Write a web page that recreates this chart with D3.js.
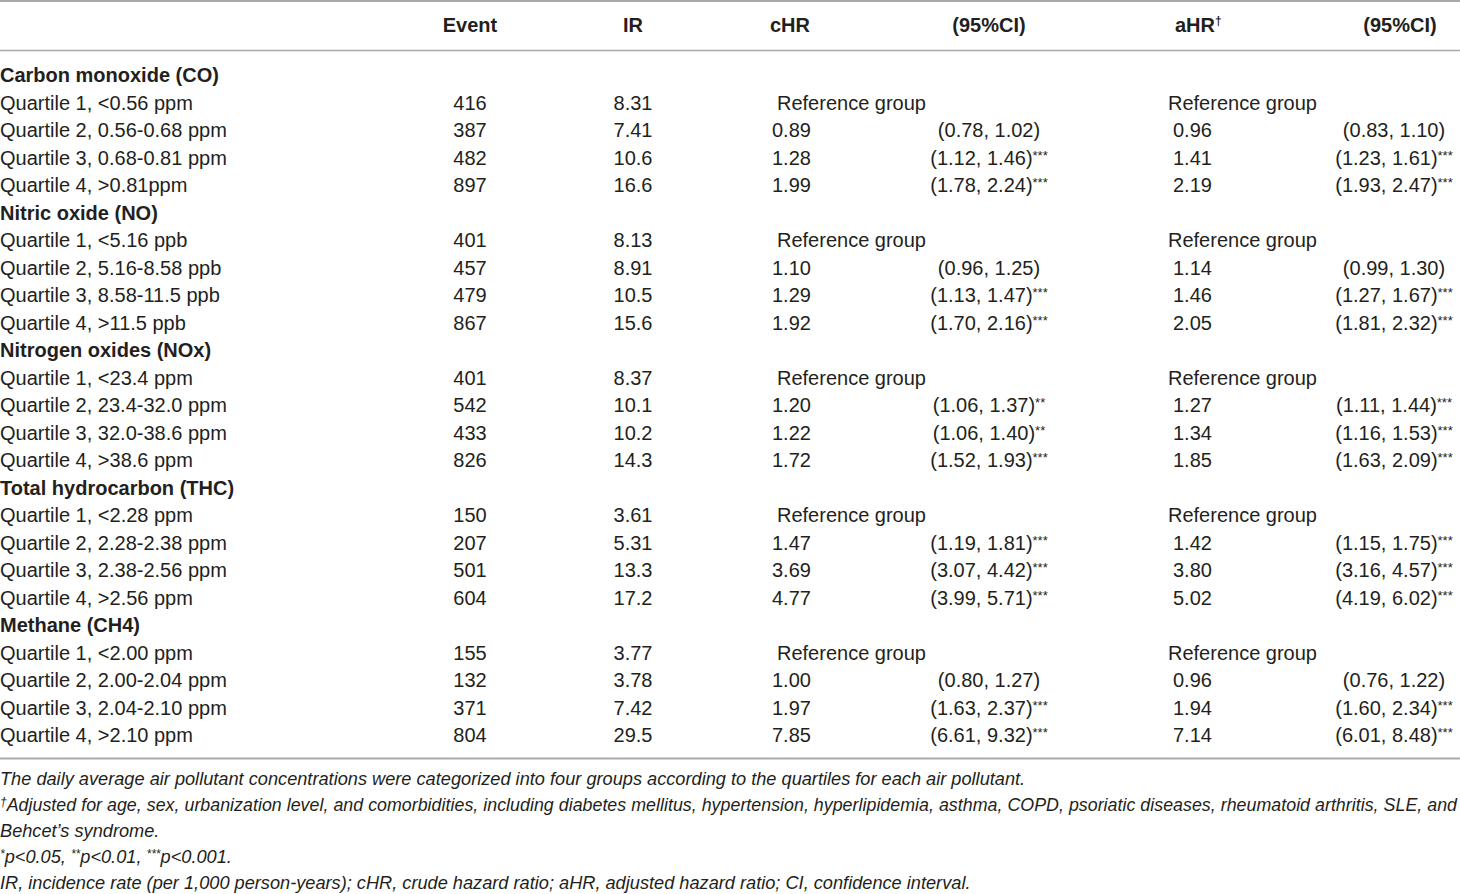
<!DOCTYPE html>
<html>
<head>
<meta charset="utf-8">
<script src="https://cdn.jsdelivr.net/npm/d3@7"></script>
<style>
  body { margin: 0; background: #fff; }
  svg text { font-family: "Liberation Sans", Arial, sans-serif; fill: #231f20; }
</style>
</head>
<body>
<svg id="chart" width="1460" height="894"></svg>
<script>
const pollutants = ['Carbon monoxide (CO)', 'Nitric oxide (NO)', 'Nitrogen oxides (NOx)', 'Total hydrocarbon (THC)', 'Methane (CH4)'];
const quartileLabels = [
  ['Quartile 1, <0.56 ppm', 'Quartile 2, 0.56-0.68 ppm', 'Quartile 3, 0.68-0.81 ppm', 'Quartile 4, >0.81ppm'],
  ['Quartile 1, <5.16 ppb', 'Quartile 2, 5.16-8.58 ppb', 'Quartile 3, 8.58-11.5 ppb', 'Quartile 4, >11.5 ppb'],
  ['Quartile 1, <23.4 ppm', 'Quartile 2, 23.4-32.0 ppm', 'Quartile 3, 32.0-38.6 ppm', 'Quartile 4, >38.6 ppm'],
  ['Quartile 1, <2.28 ppm', 'Quartile 2, 2.28-2.38 ppm', 'Quartile 3, 2.38-2.56 ppm', 'Quartile 4, >2.56 ppm'],
  ['Quartile 1, <2.00 ppm', 'Quartile 2, 2.00-2.04 ppm', 'Quartile 3, 2.04-2.10 ppm', 'Quartile 4, >2.10 ppm']
];
const events = [
  [416, 387, 482, 897],
  [401, 457, 479, 867],
  [401, 542, 433, 826],
  [150, 207, 501, 604],
  [155, 132, 371, 804]
];
const incidence = [
  ['8.31', '7.41', '10.6', '16.6'],
  ['8.13', '8.91', '10.5', '15.6'],
  ['8.37', '10.1', '10.2', '14.3'],
  ['3.61', '5.31', '13.3', '17.2'],
  ['3.77', '3.78', '7.42', '29.5']
];
const crudeHR = [
  [null, '0.89', '1.28', '1.99'],
  [null, '1.10', '1.29', '1.92'],
  [null, '1.20', '1.22', '1.72'],
  [null, '1.47', '3.69', '4.77'],
  [null, '1.00', '1.97', '7.85']
];
const crudeCI = [
  [null, ['(0.78, 1.02)', ''], ['(1.12, 1.46)', '***'], ['(1.78, 2.24)', '***']],
  [null, ['(0.96, 1.25)', ''], ['(1.13, 1.47)', '***'], ['(1.70, 2.16)', '***']],
  [null, ['(1.06, 1.37)', '**'], ['(1.06, 1.40)', '**'], ['(1.52, 1.93)', '***']],
  [null, ['(1.19, 1.81)', '***'], ['(3.07, 4.42)', '***'], ['(3.99, 5.71)', '***']],
  [null, ['(0.80, 1.27)', ''], ['(1.63, 2.37)', '***'], ['(6.61, 9.32)', '***']]
];
const adjHR = [
  [null, '0.96', '1.41', '2.19'],
  [null, '1.14', '1.46', '2.05'],
  [null, '1.27', '1.34', '1.85'],
  [null, '1.42', '3.80', '5.02'],
  [null, '0.96', '1.94', '7.14']
];
const adjCI = [
  [null, ['(0.83, 1.10)', ''], ['(1.23, 1.61)', '***'], ['(1.93, 2.47)', '***']],
  [null, ['(0.99, 1.30)', ''], ['(1.27, 1.67)', '***'], ['(1.81, 2.32)', '***']],
  [null, ['(1.11, 1.44)', '***'], ['(1.16, 1.53)', '***'], ['(1.63, 2.09)', '***']],
  [null, ['(1.15, 1.75)', '***'], ['(3.16, 4.57)', '***'], ['(4.19, 6.02)', '***']],
  [null, ['(0.76, 1.22)', ''], ['(1.60, 2.34)', '***'], ['(6.01, 8.48)', '***']]
];
const headers = [
  { key: 'event', text: 'Event', sup: '' },
  { key: 'ir', text: 'IR', sup: '' },
  { key: 'chr', text: 'cHR', sup: '' },
  { key: 'cci', text: '(95%CI)', sup: '' },
  { key: 'ahr', text: 'aHR', sup: '†' },
  { key: 'aci', text: '(95%CI)', sup: '' }
];
const refLabel = 'Reference group';
// footnote lines: [superscript, text] pieces
const footnotes = [
  [['', 'The daily average air pollutant concentrations were categorized into four groups according to the quartiles for each air pollutant.']],
  [['†', ''], ['', 'Adjusted for age, sex, urbanization level, and comorbidities, including diabetes mellitus, hypertension, hyperlipidemia, asthma, COPD, psoriatic diseases, rheumatoid arthritis, SLE, and']],
  [['', 'Behcet’s syndrome.']],
  [['*', ''], ['', 'p<0.05, '], ['**', ''], ['', 'p<0.01, '], ['***', ''], ['', 'p<0.001.']],
  [['', 'IR, incidence rate (per 1,000 person-years); cHR, crude hazard ratio; aHR, adjusted hazard ratio; CI, confidence interval.']]
];
const justifiedLine = 1; // wrapped line that runs to the right edge

// ---- layout ----
const W = 1460;
const svg = d3.select('#chart');
const fs = 20;

// flatten into rows
const rows = [];
pollutants.forEach((p, g) => {
  rows.push({ type: 'group', label: p });
  quartileLabels[g].forEach((q, i) => {
    rows.push({
      type: 'q', label: q, event: events[g][i], ir: incidence[g][i],
      chr: crudeHR[g][i], cci: crudeCI[g][i], ahr: adjHR[g][i], aci: adjCI[g][i]
    });
  });
});

const y = d3.scaleBand().domain(d3.range(rows.length)).range([61.25, 748.75]);
const x = d3.scaleOrdinal()
  .domain(['event', 'ir', 'chr', 'cci', 'ahr', 'aci', 'chrRef', 'ahrRef'])
  .range([470, 633, 772, 989, 1173, 1394, 777, 1168]);
const anchor = { event: 'middle', ir: 'middle', chr: 'start', cci: 'middle', ahr: 'start', aci: 'middle' };
const headerX = { event: 470, ir: 633, chr: 770, cci: 989, ahr: 1175, aci: 1400 };

// rules
const rules = [1, 50.5, 758.5];
svg.selectAll('line.rule').data(rules).join('line')
  .attr('class', 'rule')
  .attr('x1', 0).attr('x2', W)
  .attr('y1', d => d).attr('y2', d => d)
  .attr('stroke', '#a7a9ac')
  .attr('stroke-width', (d, i) => i === 1 ? 1.5 : 2);

// header
const hdr = svg.append('g').selectAll('text').data(headers).join('text')
  .attr('x', d => headerX[d.key])
  .attr('y', 25)
  .attr('dy', '0.35em')
  .attr('text-anchor', d => anchor[d.key])
  .attr('font-size', fs)
  .attr('font-weight', 700);
hdr.append('tspan').text(d => d.text);
hdr.append('tspan').text(d => d.sup).attr('font-size', 12).attr('dy', '-0.6em');

// body rows
const rowG = svg.append('g').selectAll('g').data(rows).join('g')
  .attr('transform', (d, i) => `translate(0,${y(i) + y.bandwidth() / 2})`);

rowG.append('text')
  .attr('x', 0).attr('dy', '0.35em')
  .attr('font-size', fs)
  .attr('font-weight', d => d.type === 'group' ? 700 : 400)
  .text(d => d.label);

const qRows = rowG.filter(d => d.type === 'q');

['event', 'ir'].forEach(k => {
  qRows.append('text')
    .attr('x', x(k)).attr('dy', '0.35em')
    .attr('text-anchor', 'middle')
    .attr('font-size', fs)
    .text(d => d[k]);
});

['chr', 'ahr'].forEach(k => {
  qRows.append('text')
    .attr('x', d => d[k] === null ? x(k + 'Ref') : x(k))
    .attr('dy', '0.35em')
    .attr('font-size', fs)
    .text(d => d[k] === null ? refLabel : d[k]);
});

['cci', 'aci'].forEach(k => {
  const t = qRows.filter(d => d[k] !== null).append('text')
    .attr('x', x(k)).attr('dy', '0.35em')
    .attr('text-anchor', 'middle')
    .attr('font-size', fs);
  t.append('tspan').text(d => d[k][0]);
  t.append('tspan').text(d => d[k][1]).attr('font-size', 13).attr('dy', '-0.35em');
});

// footnotes
const fy = d3.scaleLinear().domain([0, footnotes.length - 1]).range([779, 883]);
const fn = svg.append('g').selectAll('text').data(footnotes).join('text')
  .attr('x', 0)
  .attr('y', (d, i) => fy(i))
  .attr('dy', '0.35em')
  .attr('font-size', (d, i) => i === justifiedLine ? 17.8 : 18.2)
  .attr('font-style', 'italic');
fn.each(function (parts, i) {
  const t = d3.select(this);
  parts.forEach(([sup, txt]) => {
    if (sup) {
      t.append('tspan').text(sup).attr('font-size', 12).attr('baseline-shift', '45%');
    } else {
      t.append('tspan').text(txt);
    }
  });
  if (i === justifiedLine) {
    t.attr('textLength', W - 3).attr('lengthAdjust', 'spacing');
  }
});
</script>
</body>
</html>
